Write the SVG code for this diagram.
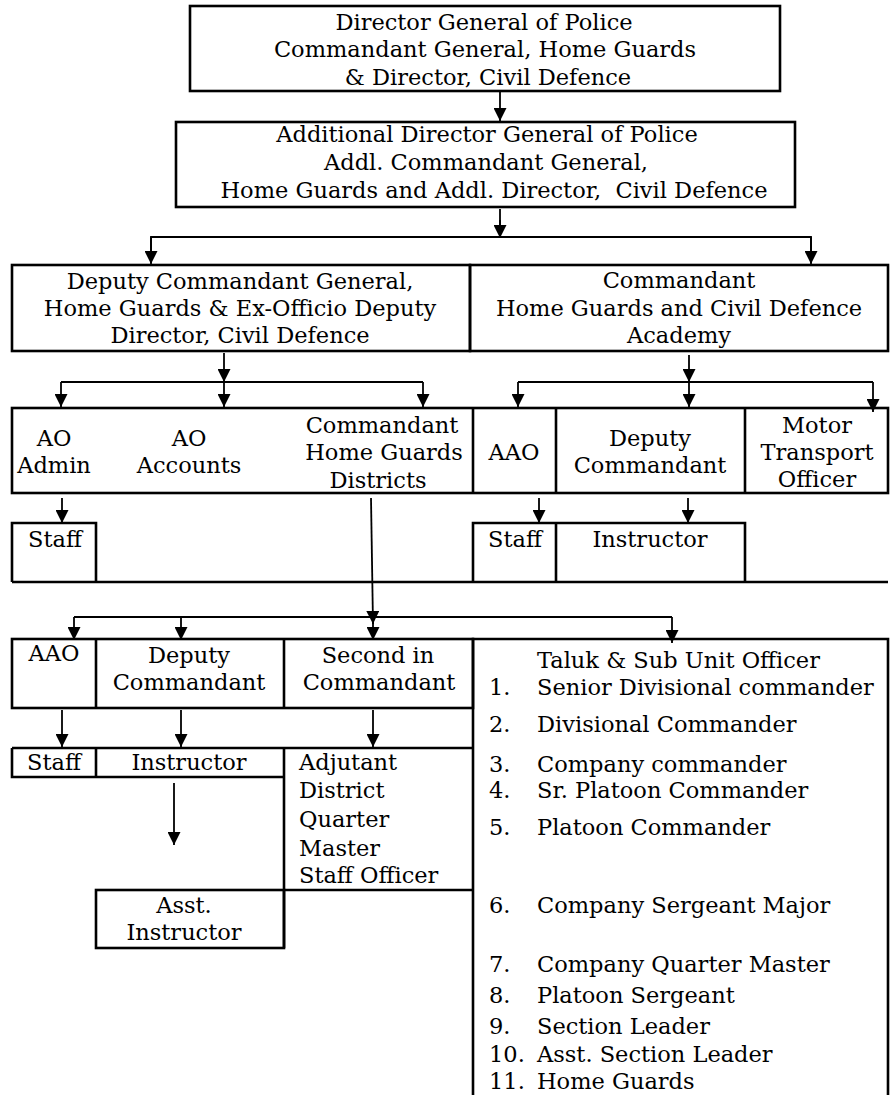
<svg xmlns="http://www.w3.org/2000/svg" width="893" height="1095" viewBox="0 0 893 1095">
<defs>
<style>
.b{fill:none;stroke:#000;stroke-width:2.6}
.c{fill:none;stroke:#000;stroke-width:1.8}
.a{fill:none;stroke:#000;stroke-width:1.8;marker-end:url(#ah)}
text{font-family:"DejaVu Serif","Liberation Serif",serif;font-size:22.5px;fill:#000}
.m{text-anchor:middle}
</style>
<marker id="ah" viewBox="0 0 12 12" markerWidth="13" markerHeight="13" refX="12" refY="6" orient="auto" markerUnits="userSpaceOnUse">
<path d="M0,0 L12,6 L0,12 z" fill="#000"/>
</marker>
</defs>
<rect width="893" height="1095" fill="#fff"/>

<g id="connectors">
<line class="a" x1="500" y1="92" x2="500" y2="121"/>
<line class="c" x1="500" y1="209" x2="500" y2="237"/>
<polyline class="c" points="151,263 151,237 811,237 811,263"/>
<line class="a" x1="500" y1="220" x2="500" y2="238"/>
<line class="a" x1="151" y1="237" x2="151" y2="264"/>
<line class="a" x1="811" y1="237" x2="811" y2="264"/>

<line class="a" x1="224" y1="353" x2="224" y2="382"/>
<line class="c" x1="61" y1="382" x2="423" y2="382"/>
<line class="a" x1="61" y1="382" x2="61" y2="407"/>
<line class="a" x1="224" y1="382" x2="224" y2="407"/>
<line class="a" x1="423" y1="382" x2="423" y2="407"/>

<line class="a" x1="689" y1="355" x2="689" y2="382"/>
<line class="c" x1="518" y1="382" x2="873" y2="382"/>
<line class="a" x1="518" y1="382" x2="518" y2="407"/>
<line class="a" x1="689" y1="382" x2="689" y2="407"/>
<line class="a" x1="873" y1="382" x2="873" y2="412"/>

<line class="a" x1="62" y1="498" x2="62" y2="523"/>
<line class="a" x1="539" y1="498" x2="539" y2="523"/>
<line class="a" x1="688" y1="498" x2="688" y2="523"/>

<line class="a" x1="371" y1="498" x2="373" y2="624"/>
<line class="c" x1="74" y1="617" x2="672" y2="617"/>
<line class="a" x1="74" y1="617" x2="74" y2="640"/>
<line class="a" x1="181" y1="617" x2="181" y2="640"/>
<line class="a" x1="373" y1="617" x2="373" y2="640"/>
<line class="a" x1="672" y1="617" x2="672" y2="643"/>

<line class="a" x1="62" y1="710" x2="62" y2="747"/>
<line class="a" x1="181" y1="710" x2="181" y2="747"/>
<line class="a" x1="373" y1="710" x2="373" y2="747"/>

<line class="a" x1="174" y1="783" x2="174" y2="845"/>
</g>

<g id="dgp">
<rect class="b" x="190" y="6" width="590" height="85"/>
<text class="m" x="484" y="30">Director General of Police</text>
<text class="m" x="485" y="57">Commandant General, Home Guards</text>
<text class="m" x="488" y="85">&amp; Director, Civil Defence</text>
</g>

<g id="adgp">
<rect class="b" x="176" y="122" width="619" height="85"/>
<text class="m" x="487" y="142">Additional Director General of Police</text>
<text class="m" x="486" y="170">Addl. Commandant General,</text>
<text class="m" x="494" y="198" xml:space="preserve">Home Guards and Addl. Director,  Civil Defence</text>
</g>

<g id="dcg">
<rect class="b" x="12" y="265" width="458" height="86"/>
<text class="m" x="240" y="289">Deputy Commandant General,</text>
<text class="m" x="240" y="316">Home Guards &amp; Ex-Officio Deputy</text>
<text class="m" x="240" y="343">Director, Civil Defence</text>
</g>

<g id="academy">
<rect class="b" x="470" y="265" width="418" height="86"/>
<text class="m" x="679" y="288">Commandant</text>
<text class="m" x="679" y="316">Home Guards and Civil Defence</text>
<text class="m" x="679" y="343">Academy</text>
</g>

<g id="row4">
<rect class="b" x="12" y="408" width="876" height="85"/>
<line class="b" x1="473" y1="408" x2="473" y2="493"/>
<line class="b" x1="556" y1="408" x2="556" y2="493"/>
<line class="b" x1="745" y1="408" x2="745" y2="493"/>
</g>
<g id="ao-admin">
<text class="m" x="54" y="446">AO</text>
<text class="m" x="54" y="473">Admin</text>
</g>
<g id="ao-accounts">
<text class="m" x="189" y="446">AO</text>
<text class="m" x="189" y="473">Accounts</text>
</g>
<g id="cmdt-hg-districts">
<text class="m" x="382" y="433">Commandant</text>
<text class="m" x="384" y="460">Home Guards</text>
<text class="m" x="378" y="488">Districts</text>
</g>
<g id="aao-academy">
<text class="m" x="514" y="460">AAO</text>
</g>
<g id="dy-cmdt-academy">
<text class="m" x="650" y="446">Deputy</text>
<text class="m" x="650" y="473">Commandant</text>
</g>
<g id="mto">
<text class="m" x="817" y="433">Motor</text>
<text class="m" x="817" y="460">Transport</text>
<text class="m" x="817" y="487">Officer</text>
</g>

<g id="row5">
<polyline class="b" points="12,582 12,523 96,523 96,582"/>
<line class="b" x1="12" y1="582" x2="888" y2="582"/>
<polyline class="b" points="473,582 473,523 745,523 745,582"/>
<line class="b" x1="556" y1="523" x2="556" y2="582"/>
</g>
<g id="staff-1"><text class="m" x="55" y="547">Staff</text></g>
<g id="staff-2"><text class="m" x="515" y="547">Staff</text></g>
<g id="instructor-1"><text class="m" x="650" y="547">Instructor</text></g>

<g id="row6">
<rect class="b" x="12" y="639" width="461" height="69"/>
<line class="b" x1="96" y1="639" x2="96" y2="708"/>
<line class="b" x1="284" y1="639" x2="284" y2="708"/>
</g>
<g id="aao-district"><text class="m" x="54" y="661">AAO</text></g>
<g id="dy-cmdt-district">
<text class="m" x="189" y="663">Deputy</text>
<text class="m" x="189" y="690">Commandant</text>
</g>
<g id="second-in-cmdt">
<text class="m" x="378" y="663">Second in</text>
<text class="m" x="379" y="690">Commandant</text>
</g>

<g id="taluk">
<polyline class="b" points="473,1100 473,639 888,639 888,1100"/>
<text x="537" y="668">Taluk &amp; Sub Unit Officer</text>
<text x="489" y="695">1.</text><text x="537" y="695">Senior Divisional commander</text>
<text x="489" y="732">2.</text><text x="537" y="732">Divisional Commander</text>
<text x="489" y="772">3.</text><text x="537" y="772">Company commander</text>
<text x="489" y="798">4.</text><text x="537" y="798">Sr. Platoon Commander</text>
<text x="489" y="835">5.</text><text x="537" y="835">Platoon Commander</text>
<text x="489" y="913">6.</text><text x="537" y="913">Company Sergeant Major</text>
<text x="489" y="972">7.</text><text x="537" y="972">Company Quarter Master</text>
<text x="489" y="1003">8.</text><text x="537" y="1003">Platoon Sergeant</text>
<text x="489" y="1034">9.</text><text x="537" y="1034">Section Leader</text>
<text x="489" y="1062">10.</text><text x="537" y="1062">Asst. Section Leader</text>
<text x="489" y="1089">11.</text><text x="537" y="1089">Home Guards</text>
</g>

<g id="row7">
<line class="b" x1="12" y1="748" x2="473" y2="748"/>
<polyline class="b" points="12,748 12,777 284,777"/>
<line class="b" x1="96" y1="748" x2="96" y2="777"/>
<line class="b" x1="284" y1="748" x2="284" y2="948"/>
<line class="b" x1="284" y1="890" x2="473" y2="890"/>
</g>
<g id="staff-3"><text class="m" x="54" y="770">Staff</text></g>
<g id="instructor-2"><text class="m" x="189" y="770">Instructor</text></g>
<g id="adjutant">
<text x="299" y="770">Adjutant</text>
<text x="299" y="798">District</text>
<text x="299" y="827">Quarter</text>
<text x="299" y="856">Master</text>
<text x="299" y="883">Staff Officer</text>
</g>
<g id="asst-instructor">
<rect class="b" x="96" y="890" width="188" height="58"/>
<text class="m" x="184" y="913">Asst.</text>
<text class="m" x="184" y="940">Instructor</text>
</g>
</svg>
